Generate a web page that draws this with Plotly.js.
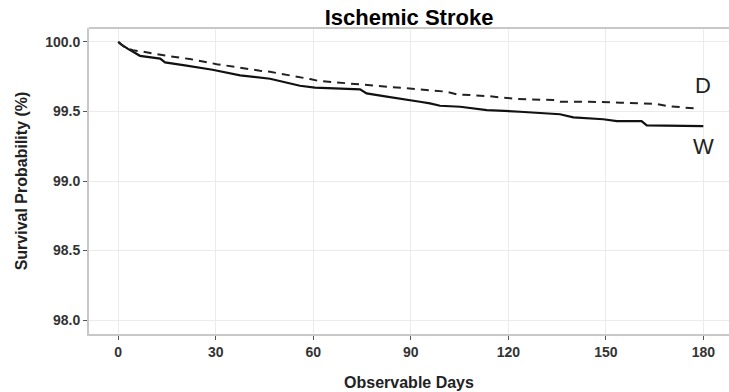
<!DOCTYPE html>
<html>
<head>
<meta charset="utf-8">
<script src="https://cdn.plot.ly/plotly-3.0.1.min.js"></script>
<style>
html, body { margin: 0; padding: 0; background: #ffffff; overflow: hidden; }
#chart { width: 729px; height: 392px; }
</style>
</head>
<body>
<div id="chart"></div>
<script>
// Survival curves (days, survival %)
var wDays = [0, 1, 3, 4, 6.7, 12.9, 14.4, 21, 29, 37.5, 43.6, 46.7, 55.9, 60.5, 74.4, 76.4, 82.6, 88.8, 92.8, 95.9, 99, 105.2, 113.4, 123.6, 131.8, 135.9, 140, 145.2, 149.2, 153.4, 161, 162.6, 173.9, 174.9, 180];
var wSurv = [100, 99.98, 99.95, 99.935, 99.90, 99.88, 99.853, 99.83, 99.80, 99.76, 99.745, 99.735, 99.685, 99.671, 99.659, 99.63, 99.606, 99.587, 99.57, 99.558, 99.541, 99.534, 99.51, 99.498, 99.487, 99.48, 99.458, 99.45, 99.444, 99.431, 99.431, 99.40, 99.40, 99.395, 99.395];

var dDays = [0, 2, 4.5, 7.6, 14.9, 22, 30.3, 38.4, 43.6, 46.7, 53.8, 59, 61.5, 74.4, 83.6, 92.8, 101, 104.1, 113.4, 122.6, 133.8, 135.9, 145, 154.4, 165.7, 168.8, 178.3];
var dSurv = [100, 99.96, 99.94, 99.93, 99.90, 99.877, 99.84, 99.81, 99.793, 99.785, 99.757, 99.733, 99.72, 99.695, 99.673, 99.654, 99.642, 99.623, 99.611, 99.59, 99.582, 99.57, 99.57, 99.563, 99.554, 99.539, 99.52];

var xTicks = [0, 30, 60, 90, 120, 150, 180];
var yTicks = [98.0, 98.5, 99.0, 99.5, 100.0];
var yTickLabels = ["98.0", "98.5", "99.0", "99.5", "100.0"];

var curveLabels = [
  {text: "D", x: 180, y: 99.69},
  {text: "W", x: 180, y: 99.245}
];

var FONT = "Liberation Sans, Arial, Helvetica, sans-serif";

var traces = [
  {
    x: wDays, y: wSurv, type: "scatter", mode: "lines", name: "W",
    line: {color: "#111111", width: 2.2, shape: "linear"},
    hoverinfo: "skip"
  },
  {
    x: dDays, y: dSurv, type: "scatter", mode: "lines", name: "D",
    line: {color: "#222222", width: 2, dash: "8px,6px", shape: "linear"},
    hoverinfo: "skip"
  }
];

var layout = {
  width: 729, height: 392,
  margin: {l: 89, r: 0, t: 28, b: 58, pad: 0},
  paper_bgcolor: "#ffffff",
  plot_bgcolor: "#ffffff",
  showlegend: false,
  font: {family: FONT, color: "#333333"},
  title: {
    text: "<b>Ischemic Stroke</b>",
    font: {family: FONT, size: 22, color: "#000000"},
    xref: "paper", x: 0.5, xanchor: "center",
    yref: "container", y: 0.955, yanchor: "middle"
  },
  xaxis: {
    range: [-9, 187.9],
    tickvals: xTicks,
    ticktext: xTicks.map(function (v) { return "<b>" + v + "</b>"; }),
    ticks: "outside", ticklen: 4, tickwidth: 1, tickcolor: "#555555",
    tickfont: {family: FONT, size: 14, color: "#333333"},
    showgrid: true, gridcolor: "#ebebeb", gridwidth: 1,
    zeroline: false,
    showline: true, linecolor: "#c8c8c8", linewidth: 2, mirror: false,
    title: {
      text: "<b>Observable Days</b>",
      font: {family: FONT, size: 16, color: "#222222"},
      standoff: 18
    },
    fixedrange: true
  },
  yaxis: {
    range: [97.9, 100.1],
    tickvals: yTicks,
    ticktext: yTickLabels.map(function (v) { return "<b>" + v + "</b>"; }),
    ticks: "outside", ticklen: 4, tickwidth: 1, tickcolor: "#555555",
    tickfont: {family: FONT, size: 14, color: "#333333"},
    showgrid: true, gridcolor: "#ebebeb", gridwidth: 1,
    zeroline: false,
    showline: true, linecolor: "#c8c8c8", linewidth: 2, mirror: false,
    title: {
      text: "<b>Survival Probability (%)</b>",
      font: {family: FONT, size: 16, color: "#222222"},
      standoff: 14
    },
    fixedrange: true
  },
  shapes: [
    {type: "line", xref: "paper", yref: "paper", x0: 0, x1: 1, y0: 1, y1: 1,
     line: {color: "#c8c8c8", width: 2}}
  ],
  annotations: curveLabels.map(function (c) {
    return {
      x: c.x, y: c.y, xref: "x", yref: "y", text: c.text, showarrow: false,
      xanchor: "center", yanchor: "middle",
      font: {family: FONT, size: 22, color: "#222222"}
    };
  })
};

Plotly.newPlot("chart", traces, layout, {staticPlot: true, displayModeBar: false});
</script>
</body>
</html>
